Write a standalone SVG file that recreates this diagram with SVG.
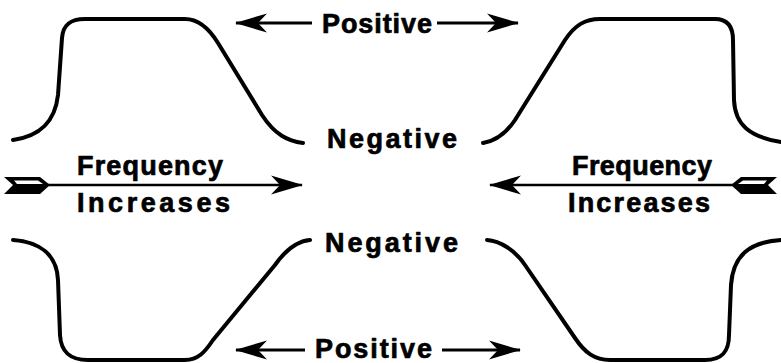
<svg xmlns="http://www.w3.org/2000/svg" width="781" height="363" viewBox="0 0 781 363">
<style>
.curve{fill:none;stroke:#000;stroke-width:4;stroke-linecap:round;stroke-linejoin:round}
.shaft{fill:none;stroke:#000;stroke-width:3}
.thin{fill:none;stroke:#000;stroke-width:2.5}
.lbl{font-family:"Liberation Sans",Arial,sans-serif;font-weight:bold;font-size:27px;fill:#000;stroke:#000;stroke-width:0.7;stroke-linejoin:round}
.fl{fill:#000}
.flw{fill:#fff}
</style>
<defs>
<marker id="ah" viewBox="-32 -10 34 20" refX="0" refY="0" markerWidth="34" markerHeight="20" markerUnits="userSpaceOnUse" orient="auto">
<path d="M1,0 L-31,-9.5 L-22,0 L-31,9.5 Z" fill="#000"/>
</marker>
</defs>
<rect width="781" height="363" fill="#fff"/>
<g id="curve-top-left"><path class="curve" d="M13,140 C40,136 55,122 58,95 L62,38 C63,25 70,19 85,19 L185,19 C200,19 210,30 218,43 L262,115 C275,135 288,141 303,143"/></g>
<g id="curve-top-right"><path class="curve" d="M483,143 C495,141 505,135 515,120 L565,40 C575,25 585,19 600,19 L715,19 C728,19 733,27 733,40 L734,100 C735,125 750,137 781,142"/></g>
<g id="curve-bottom-left"><path class="curve" d="M13,240 C40,242 57,255 58,280 L60,335 C61,352 70,360 88,360 L185,360 C198,360 205,352 213,340 L275,265 C287,248 298,241 310,240"/></g>
<g id="curve-bottom-right"><path class="curve" d="M487,240 C500,241 515,250 525,265 L575,338 C585,353 595,360 610,360 L705,360 C722,360 729,352 729,335 L731,285 C733,255 750,242 781,240"/></g>
<g id="label-positive-top"><text class="lbl" x="322" y="33" textLength="110" lengthAdjust="spacing">Positive</text></g>
<g id="label-negative-top"><text class="lbl" x="327" y="148" textLength="130" lengthAdjust="spacing">Negative</text></g>
<g id="label-negative-bottom"><text class="lbl" x="325" y="252" textLength="133" lengthAdjust="spacing">Negative</text></g>
<g id="label-positive-bottom"><text class="lbl" x="315" y="358" textLength="117" lengthAdjust="spacing">Positive</text></g>
<g id="label-freq-left"><text class="lbl" x="77" y="175" textLength="146" lengthAdjust="spacing">Frequency</text><text class="lbl" x="77" y="212" textLength="153" lengthAdjust="spacing">Increases</text></g>
<g id="label-freq-right"><text class="lbl" x="572" y="175" textLength="140" lengthAdjust="spacing">Frequency</text><text class="lbl" x="568" y="212" textLength="142" lengthAdjust="spacing">Increases</text></g>
<g id="connectors">
<line class="shaft" x1="312" y1="23" x2="236" y2="23" marker-end="url(#ah)"/>
<line class="shaft" x1="437" y1="23" x2="518" y2="23" marker-end="url(#ah)"/>
<line class="shaft" x1="305" y1="350" x2="236" y2="350" marker-end="url(#ah)"/>
<line class="shaft" x1="442" y1="350" x2="520" y2="350" marker-end="url(#ah)"/>
<line class="thin" x1="30" y1="185" x2="302" y2="185" marker-end="url(#ah)"/>
<line class="thin" x1="750" y1="185" x2="490" y2="185" marker-end="url(#ah)"/>
<polygon class="fl" points="4,177 40,177 50,185 40,194 4,194 13,185"/>
<polygon class="flw" points="14,180.5 38,180.5 43,184 17,184"/>
<polygon class="fl" points="777,177 741,177 731,185 741,194 777,194 768,185"/>
<polygon class="flw" points="767,180.5 743,180.5 738,184 764,184"/>
</g>
</svg>
